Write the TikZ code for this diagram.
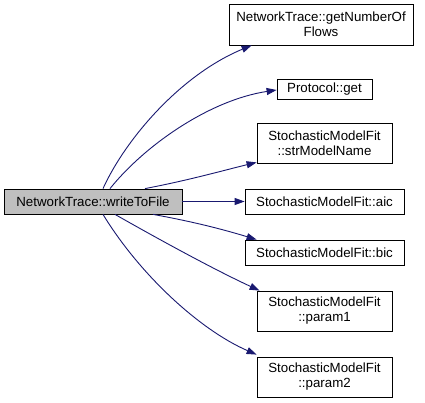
\documentclass[tikz,border=0pt]{standalone}
\usepackage{fontspec}
\setmainfont{Liberation Sans}
\usetikzlibrary{arrows.meta, calc}
\definecolor{edgeblue}{HTML}{191970}
\definecolor{boxgray}{HTML}{BFBFBF}

\begin{document}
\begin{tikzpicture}[x=1pt, y=-1pt, line width=0.8pt,
  fn/.style={draw=black, fill=white, inner sep=0pt, align=center,
    font=\fontsize{13.3}{15}\selectfont},
  call/.style={draw=edgeblue, -{Triangle[length=10pt,width=7pt]}, line width=0.9pt}]
  % page = 425 x 403 px, y runs downwards
  \useasboundingbox (0,0) rectangle (425,403);
  \node[fn, fill=boxgray, minimum width=178, minimum height=25] (main) at (93,201.5) {NetworkTrace::writeToFile};
  \node[fn, minimum width=184, minimum height=41] (flows) at (321,24.5) {NetworkTrace::getNumberOf\\Flows};
  \node[fn, minimum width=95, minimum height=20] (get) at (324.5,89) {Protocol::get};
  \node[fn, minimum width=135, minimum height=40] (name) at (324.5,143) {StochasticModelFit\\::strModelName};
  \node[fn, minimum width=159, minimum height=25] (aic) at (324.5,201.5) {StochasticModelFit::aic};
  \node[fn, minimum width=159, minimum height=25] (bic) at (324.5,252.5) {StochasticModelFit::bic};
  \node[fn, minimum width=135, minimum height=40] (p1) at (324.5,311) {StochasticModelFit\\::param1};
  \node[fn, minimum width=135, minimum height=40] (p2) at (324.5,377) {StochasticModelFit\\::param2};
  % calls
  \draw[call] ($(main.north)+(10,0)$) .. controls (125,140) and (180,75) .. ($(flows.south west)+(23,0)$);
  \draw[call] ($(main.north)+(17,0)$) .. controls (145,145) and (210,100) .. ($(get.west)+(0,1)$);
  \draw[call] ($(main.north)+(52,0)$) .. controls (190,180) and (225,170) .. ($(name.south west)+(0,-1)$);
  \draw[call] (main.east) -- (aic.west);
  \draw[call] ($(main.south)+(60,0)$) .. controls (195,222) and (225,230) .. ($(bic.north west)+(12,0)$);
  \draw[call] ($(main.south)+(22,0)$) .. controls (160,240) and (215,270) .. ($(p1.north west)+(3,0)$);
  \draw[call] ($(main.south)+(10,0)$) .. controls (140,275) and (200,330) .. ($(p2.north west)+(0,-2)$);
\end{tikzpicture}
\end{document}
